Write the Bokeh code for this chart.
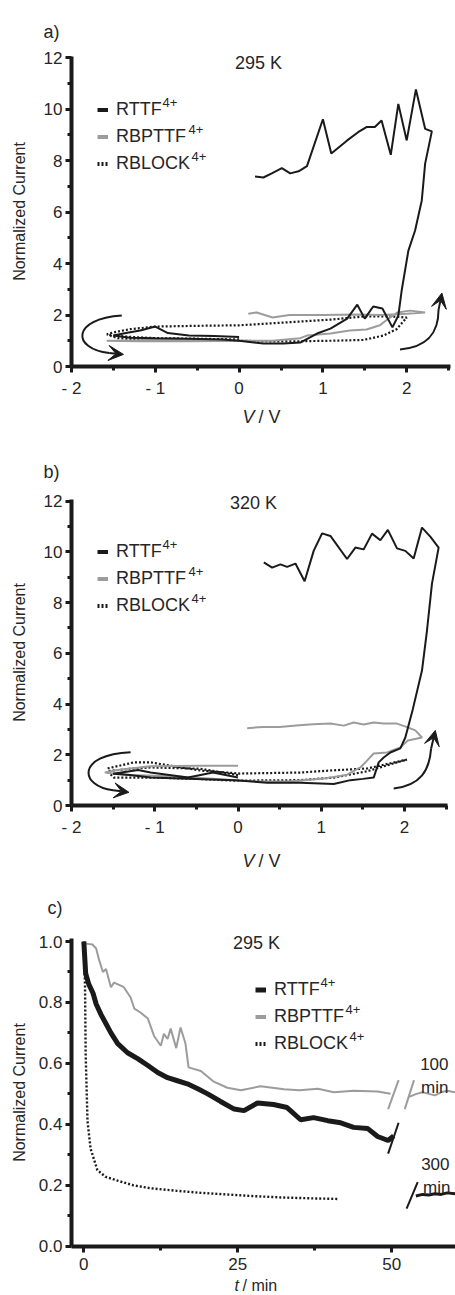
from bokeh.plotting import figure
from bokeh.layouts import column
from bokeh.models import (Label, Legend, LegendItem, FixedTicker, PrintfTickFormatter,
                          Arrow, VeeHead, Range1d)
from bokeh.embed import file_html
from bokeh.resources import INLINE

# ---------------- data ----------------
# panel a (295 K), voltage sweeps
RTTF_A_V = [0.0, -0.3, -0.6, -0.85, -1.0, -1.18, -1.35, -1.5, -1.3, -1.0, -0.6, -0.2, 0.0, 0.29, 0.53,
            0.73, 0.93, 1.09, 1.29, 1.41, 1.5, 1.6, 1.71, 1.83, 1.9, 1.94, 2.02, 2.1, 2.18, 2.22, 2.3,
            2.22, 2.11, 2.0, 1.9, 1.81, 1.7, 1.62, 1.52, 1.42, 1.29, 1.1, 1.0, 0.81, 0.71, 0.61, 0.51,
            0.39, 0.29, 0.19]
RTTF_A_I = [1.15, 1.18, 1.2, 1.3, 1.55, 1.4, 1.3, 1.2, 1.12, 1.1, 1.08, 1.05, 1.0, 0.89, 0.89,
            0.93, 1.28, 1.47, 1.86, 2.4, 1.86, 2.33, 2.25, 1.52, 1.98, 2.95, 4.5, 5.28, 6.45, 7.88, 9.13,
            9.23, 10.76, 8.78, 10.2, 8.22, 9.55, 9.3, 9.3, 9.1, 8.78, 8.27, 9.6, 7.78, 7.58, 7.5, 7.7,
            7.5, 7.34, 7.38]
RBPTTF_A_V = [0.0, -0.5, -1.0, -1.3, -1.58, -1.2, -0.6, 0.0, 0.4, 0.73, 0.81, 1.09, 1.32, 1.52, 1.68,
              1.8, 1.89, 2.04, 2.22, 2.0, 1.7, 1.4, 1.0, 0.79, 0.6, 0.4, 0.21, 0.11]
RBPTTF_A_I = [1.0, 1.02, 1.05, 1.0, 1.0, 0.98, 0.98, 1.0, 1.0, 1.1, 1.2, 1.28, 1.4, 1.44, 1.6,
              1.9, 2.1, 2.17, 2.1, 2.05, 2.0, 2.02, 2.0, 2.0, 2.0, 1.9, 2.1, 2.05]
RBLOCK_A_V = [0.0, -0.5, -1.0, -1.3, -1.5, -1.58, -1.45, -1.0, -0.5, 0.0, 0.5, 1.09, 1.48, 1.72, 1.88,
              2.0, 1.8, 1.48, 1.09, 0.5, 0.0, -0.5, -1.0, -1.3, -1.46, -1.58]
RBLOCK_A_I = [1.05, 1.08, 1.1, 1.15, 1.2, 1.25, 1.1, 1.03, 1.0, 1.0, 0.97, 1.0, 1.03, 1.2, 1.45,
              1.9, 1.95, 1.94, 1.82, 1.7, 1.6, 1.58, 1.55, 1.45, 1.35, 1.25]

# panel b (320 K)
RTTF_B_V = [0.0, -0.3, -0.6, -1.05, -1.2, -1.5, -1.3, -1.05, -0.6, -0.04, 0.35, 0.75, 1.15, 1.35, 1.5,
            1.63, 1.69, 1.75, 1.83, 1.95, 2.01, 2.1, 2.21, 2.27, 2.33, 2.41, 2.31, 2.21, 2.11, 2.01,
            1.91, 1.8, 1.71, 1.61, 1.51, 1.41, 1.31, 1.11, 1.01, 0.91, 0.8, 0.69, 0.59, 0.51, 0.41, 0.31]
RTTF_B_I = [1.1, 1.3, 1.1, 1.3, 1.4, 1.25, 1.2, 1.1, 1.05, 1.0, 0.9, 0.9, 0.85, 1.0, 1.05,
            1.1, 1.7, 1.89, 2.09, 2.25, 2.68, 3.8, 5.32, 6.9, 8.75, 10.17, 10.6, 10.96, 9.74, 10.04,
            10.14, 10.87, 10.46, 10.72, 10.1, 10.17, 9.72, 10.63, 10.73, 10.05, 8.84, 9.54, 9.41, 9.51,
            9.38, 9.59]
RBPTTF_B_V = [0.0, -0.47, -1.05, -1.45, -1.6, -1.3, -0.8, -0.3, 0.2, 0.6, 1.0, 1.3, 1.47, 1.55, 1.63,
              1.79, 1.95, 2.04, 2.21, 2.13, 2.04, 1.91, 1.75, 1.63, 1.51, 1.39, 1.27, 1.11, 0.9, 0.7,
              0.5, 0.3, 0.11]
RBPTTF_B_I = [1.57, 1.57, 1.55, 1.4, 1.3, 1.2, 1.15, 1.05, 0.95, 0.95, 1.05, 1.2, 1.5, 1.77, 2.05,
              2.09, 2.29, 2.56, 2.68, 2.96, 3.08, 3.23, 3.23, 3.27, 3.19, 3.27, 3.15, 3.23, 3.2, 3.15,
              3.1, 3.1, 3.05]
RBLOCK_B_V = [0.0, -0.45, -1.05, -1.3, -1.57, -1.49, -1.0, -0.5, -0.04, 0.75, 1.15, 1.55, 1.91, 2.03,
              1.55, 1.11, 0.75, 0.02, -0.45, -1.05, -1.25, -1.57]
RBLOCK_B_I = [1.2, 1.45, 1.5, 1.45, 1.35, 1.1, 1.1, 1.05, 0.98, 1.0, 1.1, 1.35, 1.7, 1.81,
              1.46, 1.38, 1.3, 1.26, 1.38, 1.7, 1.7, 1.46]

# panel c (295 K), current vs time
RTTF_C_T = [0, 0.3, 0.8, 1.5, 2, 2.8, 3.6, 4.4, 5.5, 7.1, 8.8, 10.4, 12, 13.6, 15.2, 16.8, 18.5, 20.1,
            22.2, 24.4, 26, 28.2, 30.8, 33, 35.2, 37.3, 39.6, 41.7, 43.8, 46.1, 47.7, 49.4, 50.3]
RTTF_C_I = [1.0, 0.895, 0.86, 0.83, 0.795, 0.76, 0.73, 0.70, 0.665, 0.635, 0.615, 0.593, 0.57, 0.553,
            0.543, 0.533, 0.517, 0.5, 0.475, 0.45, 0.445, 0.47, 0.465, 0.455, 0.415, 0.422, 0.412,
            0.405, 0.39, 0.386, 0.36, 0.347, 0.362]
RBPTTF_C_T = [0, 0.3, 1.4, 2, 2.5, 3.1, 3.6, 4.4, 4.9, 6, 6.5, 7.6, 8.2, 9.2, 10.4, 11.4, 12.5, 13,
              13.6, 14.1, 15, 15.7, 16.5, 17, 19, 21.1, 23.3, 25.5, 28.7, 32.5, 35, 38, 40.6, 43.8,
              47.7, 49.8]
RBPTTF_C_I = [1.0, 0.993, 0.99, 0.977, 0.938, 0.9, 0.91, 0.85, 0.865, 0.855, 0.85, 0.816, 0.78, 0.767,
              0.747, 0.69, 0.658, 0.697, 0.68, 0.714, 0.65, 0.718, 0.665, 0.587, 0.575, 0.54, 0.52,
              0.512, 0.525, 0.515, 0.512, 0.517, 0.505, 0.51, 0.508, 0.5]
RBLOCK_C_T = [0, 0.2, 0.3, 0.6, 1.1, 2.2, 3.5, 5.5, 8, 10.9, 15, 19, 23, 27, 32, 37, 41.4]
RBLOCK_C_I = [1.0, 0.85, 0.63, 0.41, 0.32, 0.25, 0.228, 0.215, 0.2, 0.19, 0.182, 0.175, 0.17, 0.165,
              0.16, 0.157, 0.155]
# segments after the axis break (100 min and 300 min)
RBPTTF_100_T = [52.8, 54, 55, 56, 57, 58, 59, 60.3]
RBPTTF_100_I = [0.49, 0.5, 0.505, 0.5, 0.495, 0.505, 0.51, 0.505]
RTTF_300_T = [53.9, 55, 56, 57, 58, 59, 60.3]
RTTF_300_I = [0.165, 0.17, 0.168, 0.172, 0.17, 0.175, 0.172]
# break marks
BREAK_X0 = [49.4, 52.1, 49.4, 52.4]
BREAK_Y0 = [0.45, 0.45, 0.304, 0.123]
BREAK_X1 = [51.1, 53.6, 51.1, 54.2]
BREAK_Y1 = [0.545, 0.545, 0.405, 0.21]
BREAK_COLOR = ["gray", "gray", "black", "black"]

# sweep-direction arrows (curve start, controls, end, head tip)
ARR_A = dict(x0=[-1.40, 1.92], y0=[1.98, 0.66], cx0=[-2.00, 2.25], cy0=[1.85, 0.75],
             cx1=[-2.00, 2.38], cy1=[0.70, 1.30], x1=[-1.55, 2.38], y1=[0.52, 2.20],
             tx=[-1.38, 2.42], ty=[0.47, 2.85])
ARR_B = dict(x0=[-1.29, 1.87], y0=[2.10, 0.67], cx0=[-1.95, 2.20], cy0=[2.00, 0.80],
             cx1=[-1.90, 2.30], cy1=[0.75, 1.40], x1=[-1.50, 2.32], y1=[0.60, 2.25],
             tx=[-1.31, 2.37], ty=[0.52, 2.96])

V_TICKS = [-2, -1, 0, 1, 2]
V_MINOR = [-1.5, -0.5, 0.5, 1.5, 2.5]
I_TICKS = [0, 2, 4, 6, 8, 10, 12]
I_MINOR = [1, 3, 5, 7, 9, 11]
T_TICKS = [0, 25, 50]
T_MINOR = [12.5, 37.5]
C_TICKS = [0.0, 0.2, 0.4, 0.6, 0.8, 1.0]
C_MINOR = [0.1, 0.3, 0.5, 0.7, 0.9]
V_LABELS = {-2: "- 2", -1: "- 1"}
NAMES = ["RTTF", "RBPTTF", "RBLOCK"]

# ---------------- style / layout ----------------
FONT = "Liberation Sans"
TXT = "#262626"
BLACK = "#1a1a1a"
GRAY = "#9c9c9c"
W = 455


def make_fig(h, xmin, x0px, xpu, y0px, ypu, xb, yb, label_standoff):
    # the frame covers the whole canvas; axes sit at fixed data positions
    p = figure(width=W, height=h, output_backend="svg", toolbar_location=None,
               x_range=Range1d(xmin - x0px / xpu, xmin + (W - x0px) / xpu),
               y_range=Range1d(-(h - y0px) / ypu, y0px / ypu),
               min_border=0)
    p.title.visible = False
    p.outline_line_color = None
    p.grid.visible = False
    p.xaxis.fixed_location = yb[0]
    p.yaxis.fixed_location = xb[0]
    p.xaxis.bounds = xb
    p.yaxis.bounds = yb
    for ax in (p.xaxis[0], p.yaxis[0]):
        ax.axis_line_width = 4
        ax.axis_line_color = BLACK
        ax.major_tick_line_width = 3
        ax.major_tick_line_color = BLACK
        ax.major_tick_out = 6
        ax.major_tick_in = 0
        ax.minor_tick_line_width = 3
        ax.minor_tick_line_color = BLACK
        ax.minor_tick_out = 4
        ax.minor_tick_in = 0
        ax.major_label_text_font = FONT
        ax.major_label_text_font_size = "17px"
        ax.major_label_text_color = TXT
    p.xaxis.major_label_standoff = 6
    p.yaxis.major_label_standoff = 3
    p.yaxis.axis_label = "Normalized Current"
    p.yaxis.axis_label_text_font = FONT
    p.yaxis.axis_label_text_font_size = "16px"
    p.yaxis.axis_label_text_font_style = "normal"
    p.yaxis.axis_label_text_color = TXT
    p.yaxis.axis_label_standoff = label_standoff
    return p


def text(p, h, top, px, py, s, size="18px", style="normal", align="left"):
    p.add_layout(Label(x=px, y=h - (py - top), x_units="screen", y_units="screen", text=s,
                       text_font=FONT, text_font_size=size, text_font_style=style,
                       text_color=TXT, text_align=align, text_baseline="alphabetic"))


def legend(p, h, top, gx, row1_base, widths, solid_w=4):
    nan = float("nan")
    proxies = [p.line([nan], [nan], line_color=BLACK, line_width=solid_w),
               p.line([nan], [nan], line_color=GRAY, line_width=4),
               p.line([nan], [nan], line_color=BLACK, line_width=4, line_dash="2 2")]
    pitch = 27
    ltop = row1_base - 4 - 10.5 - top
    lg = Legend(items=[LegendItem(label=n, renderers=[r]) for n, r in zip(NAMES, proxies)],
                location=(gx, h - (ltop + 3 * 21 + 2 * (pitch - 21))),
                glyph_width=11, glyph_height=21, label_height=21, spacing=pitch - 21,
                label_standoff=8, padding=0, margin=0, border_line_color=None,
                background_fill_color=None, label_text_font=FONT, label_text_font_size="18px",
                label_text_color=TXT)
    p.add_layout(lg)
    tx = gx + 19
    for i, w in enumerate(widths):
        text(p, h, top, tx + w, row1_base + i * pitch - 11, "4+", size="13px")


def arrows(p, d):
    p.bezier(x0=d["x0"], y0=d["y0"], x1=d["x1"], y1=d["y1"], cx0=d["cx0"], cy0=d["cy0"],
             cx1=d["cx1"], cy1=d["cy1"], line_color=BLACK, line_width=2)
    for i in range(len(d["x0"])):
        p.add_layout(Arrow(x_start=d["x1"][i], y_start=d["y1"][i], x_end=d["tx"][i], y_end=d["ty"][i],
                           line_color=BLACK, line_width=2,
                           end=VeeHead(size=15, fill_color=BLACK, line_color=BLACK, line_width=1)))


def cv_panel(top, h, y0px, xpu, ypu, vs, row1, arr, title, title_x, title_base, letter,
             letter_base, xlab_base):
    p = make_fig(h, -2, 71, xpu, y0px - top, ypu, (-2, 2.52), (0, 12.05), 13)
    p.xaxis.ticker = FixedTicker(ticks=V_TICKS, minor_ticks=V_MINOR)
    p.xaxis.major_label_overrides = V_LABELS
    p.yaxis.ticker = FixedTicker(ticks=I_TICKS, minor_ticks=I_MINOR)
    p.line(vs[2][0], vs[2][1], line_color=BLACK, line_width=2.2, line_dash="2 2")
    p.line(vs[1][0], vs[1][1], line_color=GRAY, line_width=2)
    p.line(vs[0][0], vs[0][1], line_color=BLACK, line_width=2)
    arrows(p, arr)
    legend(p, h, top, 97, row1, [46, 72, 75])
    text(p, h, top, title_x, title_base, title, align="center")
    text(p, h, top, 43, letter_base, letter)
    text(p, h, top, 242, xlab_base, "V", style="italic")
    text(p, h, top, 258, xlab_base, "/ V")
    return p


pa = cv_panel(0, 430, 366, 83.8, 25.75,
              [(RTTF_A_V, RTTF_A_I), (RBPTTF_A_V, RBPTTF_A_I), (RBLOCK_A_V, RBLOCK_A_I)],
              113, ARR_A, "295 K", 258, 62, "a)", 31, 416)
pb = cv_panel(430, 440, 805, 83.25, 25.36,
              [(RTTF_B_V, RTTF_B_I), (RBPTTF_B_V, RBPTTF_B_I), (RBLOCK_B_V, RBLOCK_B_I)],
              555, ARR_B, "320 K", 253, 502, "b)", 471, 860)

# panel c
topc, hc = 870, 425
pc = make_fig(hc, -2, 71, 6.16, 1245.7 - topc, 304.7, (-2, 60.3), (0, 1.01), 8)
pc.xaxis.ticker = FixedTicker(ticks=T_TICKS, minor_ticks=T_MINOR)
pc.yaxis.ticker = FixedTicker(ticks=C_TICKS, minor_ticks=C_MINOR)
pc.yaxis.formatter = PrintfTickFormatter(format="%.1f")
pc.line(RBLOCK_C_T, RBLOCK_C_I, line_color=BLACK, line_width=2.4, line_dash="2 2")
pc.line(RBPTTF_C_T, RBPTTF_C_I, line_color=GRAY, line_width=2)
pc.line(RBPTTF_100_T, RBPTTF_100_I, line_color=GRAY, line_width=2)
pc.line(RTTF_C_T, RTTF_C_I, line_color=BLACK, line_width=5)
pc.line(RTTF_300_T, RTTF_300_I, line_color=BLACK, line_width=3)
pc.segment(x0=BREAK_X0, y0=BREAK_Y0, x1=BREAK_X1, y1=BREAK_Y1,
           line_color=[GRAY if c == "gray" else BLACK for c in BREAK_COLOR], line_width=2)
legend(pc, hc, topc, 255, 993, [46, 71, 75], solid_w=5)
text(pc, hc, topc, 256, 942, "295 K", align="center")
text(pc, hc, topc, 47, 907, "c)")
text(pc, hc, topc, 448, 1063, "100", size="17px", align="right")
text(pc, hc, topc, 448, 1087, "min", size="17px", align="right")
text(pc, hc, topc, 449, 1163, "300", size="17px", align="right")
text(pc, hc, topc, 450, 1187, "min", size="17px", align="right")
text(pc, hc, topc, 234, 1285, "t", size="16px", style="italic")
text(pc, hc, topc, 242, 1285, "/ min", size="16px")

layout = column(pa, pb, pc, spacing=0)
open("out.html", "w").write(file_html(layout, INLINE))
